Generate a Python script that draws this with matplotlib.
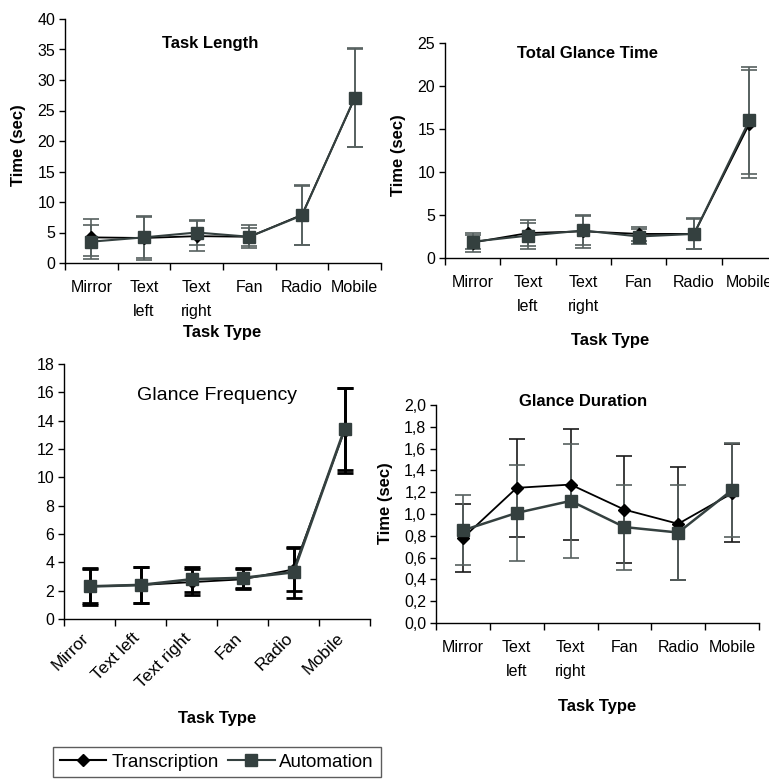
import matplotlib
matplotlib.use("Agg")
import matplotlib.pyplot as plt
import numpy as np
from matplotlib.lines import Line2D

plt.rcParams['font.family'] = ['Liberation Sans', 'DejaVu Sans']

categories = ["Mirror", "Text left", "Text right", "Fan", "Radio", "Mobile"]
labels_wrapped = ["Mirror", "Text\nleft", "Text\nright", "Fan", "Radio", "Mobile"]

# Task Length
tl_trans = [4.2, 4.1, 4.4, 4.3, 7.9, 27.0]
tl_trans_err = [3.0, 3.6, 2.5, 1.5, 4.9, 8.0]
tl_auto = [3.5, 4.2, 5.0, 4.3, 7.8, 27.1]
tl_auto_err = [2.8, 3.3, 2.1, 1.9, 4.8, 8.1]

# Total Glance Time
tg_trans = [1.8, 2.9, 3.1, 2.8, 2.8, 15.6]
tg_trans_err = [1.1, 1.5, 1.9, 0.8, 1.8, 6.3]
tg_auto = [1.9, 2.6, 3.2, 2.5, 2.8, 16.0]
tg_auto_err = [0.8, 1.5, 1.7, 0.9, 1.7, 6.2]

# Glance Frequency
gf_trans = [2.3, 2.4, 2.6, 2.8, 3.5, 13.3]
gf_trans_err = [1.2, 1.3, 0.9, 0.7, 1.5, 3.0]
gf_auto = [2.3, 2.4, 2.8, 2.9, 3.3, 13.4]
gf_auto_err = [1.3, 1.3, 0.9, 0.7, 1.8, 2.9]

# Glance Duration
gd_trans = [0.78, 1.24, 1.27, 1.04, 0.91, 1.19]
gd_trans_err = [0.31, 0.45, 0.51, 0.49, 0.52, 0.45]
gd_auto = [0.85, 1.01, 1.12, 0.88, 0.83, 1.22]
gd_auto_err = [0.32, 0.44, 0.52, 0.39, 0.44, 0.43]

W, H = 769, 779
fig = plt.figure(figsize=(W / 100, H / 100), dpi=100)

def px_axes(left, right, top, bottom):
    return fig.add_axes([left / W, 1 - bottom / H, (right - left) / W, (bottom - top) / H])

def ftext(x, y, s, **kw):
    fig.text(x / W, 1 - y / H, s, **kw)

C_TRANS = "#000000"
C_AUTO = "#34403f"
C_ERR = "#56605f"
TICK_FS = 11.5
BOLD_FS = 12

def style_axes(ax, ylim, yticks, ticklabels, rotate=False, yfmt=None):
    for s in ["top", "right"]:
        ax.spines[s].set_visible(False)
    for s in ["left", "bottom"]:
        ax.spines[s].set_color("black")
        ax.spines[s].set_linewidth(1.0)
    ax.set_xlim(-0.5, 5.5)
    ax.set_ylim(*ylim)
    ax.set_yticks(yticks)
    if yfmt:
        ax.set_yticklabels([yfmt(v) for v in yticks])
    ax.tick_params(axis='y', direction='out', length=4, width=1, labelsize=TICK_FS, pad=3)
    x = np.arange(len(categories))
    if rotate:
        # label anchors sit slightly left of the category centre, as in the original
        ax.set_xticks(x - 0.16)
        ax.set_xticklabels(ticklabels, rotation=45, ha='right', va='top',
                           rotation_mode='anchor', fontsize=12.5)
    else:
        ax.set_xticks(x)
        ax.set_xticklabels(ticklabels, fontsize=TICK_FS, linespacing=1.75)
    ax.tick_params(axis='x', which='major', length=0, pad=12)
    ax.set_xticks(np.arange(-0.5, 6.0, 1.0), minor=True)
    ax.tick_params(axis='x', which='minor', direction='out', length=5, width=1)
    ax.patch.set_alpha(0)

def plot_series(ax, trans, trans_err, auto, auto_err, err_trans_c, err_auto_c, elw, lw_auto):
    x = np.arange(len(categories))
    ax.errorbar(x, trans, yerr=trans_err, fmt='none', ecolor=err_trans_c,
                elinewidth=elw, capsize=5.5, capthick=elw, zorder=2, clip_on=False)
    ax.errorbar(x, auto, yerr=auto_err, fmt='none', ecolor=err_auto_c,
                elinewidth=elw, capsize=5.5, capthick=elw, zorder=2, clip_on=False)
    ax.plot(x, trans, color=C_TRANS, lw=1.3, marker='D', markersize=6,
            markerfacecolor=C_TRANS, markeredgecolor=C_TRANS, zorder=3, clip_on=False)
    ax.plot(x, auto, color=C_AUTO, lw=lw_auto, marker='s', markersize=8.5,
            markerfacecolor=C_AUTO, markeredgecolor=C_AUTO, zorder=4, clip_on=False)

# Panel 1: Task Length
ax1 = px_axes(65, 381, 19, 263)
plot_series(ax1, tl_trans, tl_trans_err, tl_auto, tl_auto_err, C_ERR, C_ERR, 1.2, 1.5)
style_axes(ax1, (0, 40), np.arange(0, 41, 5), labels_wrapped)
ax1.text(0.46, 0.90, "Task Length", transform=ax1.transAxes, ha='center', va='center',
         fontsize=BOLD_FS, fontweight='bold')
ftext(19, 145, "Time (sec)", rotation=90, ha='center', va='center', fontsize=BOLD_FS, fontweight='bold')
ftext(222, 333, "Task Type", ha='center', va='center', fontsize=BOLD_FS, fontweight='bold')

# Panel 2: Total Glance Time
ax2 = px_axes(445, 777, 43, 258)
plot_series(ax2, tg_trans, tg_trans_err, tg_auto, tg_auto_err, C_ERR, C_ERR, 1.2, 1.5)
style_axes(ax2, (0, 25), np.arange(0, 26, 5), labels_wrapped)
ax2.text(0.43, 0.953, "Total Glance Time", transform=ax2.transAxes, ha='center', va='center',
         fontsize=BOLD_FS, fontweight='bold')
ftext(398, 155, "Time (sec)", rotation=90, ha='center', va='center', fontsize=BOLD_FS, fontweight='bold')
ftext(610, 340, "Task Type", ha='center', va='center', fontsize=BOLD_FS, fontweight='bold')

# Panel 3: Glance Frequency
ax3 = px_axes(64, 370, 364, 619)
plot_series(ax3, gf_trans, gf_trans_err, gf_auto, gf_auto_err, "black", "black", 2.0, 2.0)
style_axes(ax3, (0, 18), np.arange(0, 19, 2), categories, rotate=True)
ax3.tick_params(axis='x', which='major', pad=8)
ax3.text(0.5, 0.878, "Glance Frequency", transform=ax3.transAxes, ha='center', va='center',
         fontsize=14)
ftext(217, 719, "Task Type", ha='center', va='center', fontsize=BOLD_FS, fontweight='bold')

# Panel 4: Glance Duration
ax4 = px_axes(436, 759, 405, 623)
plot_series(ax4, gd_trans, gd_trans_err, gd_auto, gd_auto_err, "#1a1a1a", C_ERR, 1.2, 1.8)
style_axes(ax4, (0, 2.0), np.round(np.arange(0, 2.01, 0.2), 1), labels_wrapped,
           yfmt=lambda v: f"{v:.1f}".replace('.', ','))
ax4.text(0.455, 1.018, "Glance Duration", transform=ax4.transAxes, ha='center', va='center',
         fontsize=BOLD_FS, fontweight='bold')
ftext(385, 503, "Time (sec)", rotation=90, ha='center', va='center', fontsize=BOLD_FS, fontweight='bold')
ftext(597, 707, "Task Type", ha='center', va='center', fontsize=BOLD_FS, fontweight='bold')

# Legend
handles = [
    Line2D([], [], color=C_TRANS, lw=1.5, marker='D', markersize=6),
    Line2D([], [], color=C_AUTO, lw=1.5, marker='s', markersize=8),
]
leg = fig.legend(handles, ["Transcription", "Automation"], loc='upper left',
                 bbox_to_anchor=(53 / W, 1 - 747 / H), ncol=2, frameon=True, fancybox=False,
                 fontsize=13.5, handlelength=2.5, handletextpad=0.25, columnspacing=0.5,
                 borderaxespad=0, borderpad=0.35)
leg.get_frame().set_edgecolor("#333333")
leg.get_frame().set_linewidth(1.0)

fig.savefig("out.png", dpi=100)
